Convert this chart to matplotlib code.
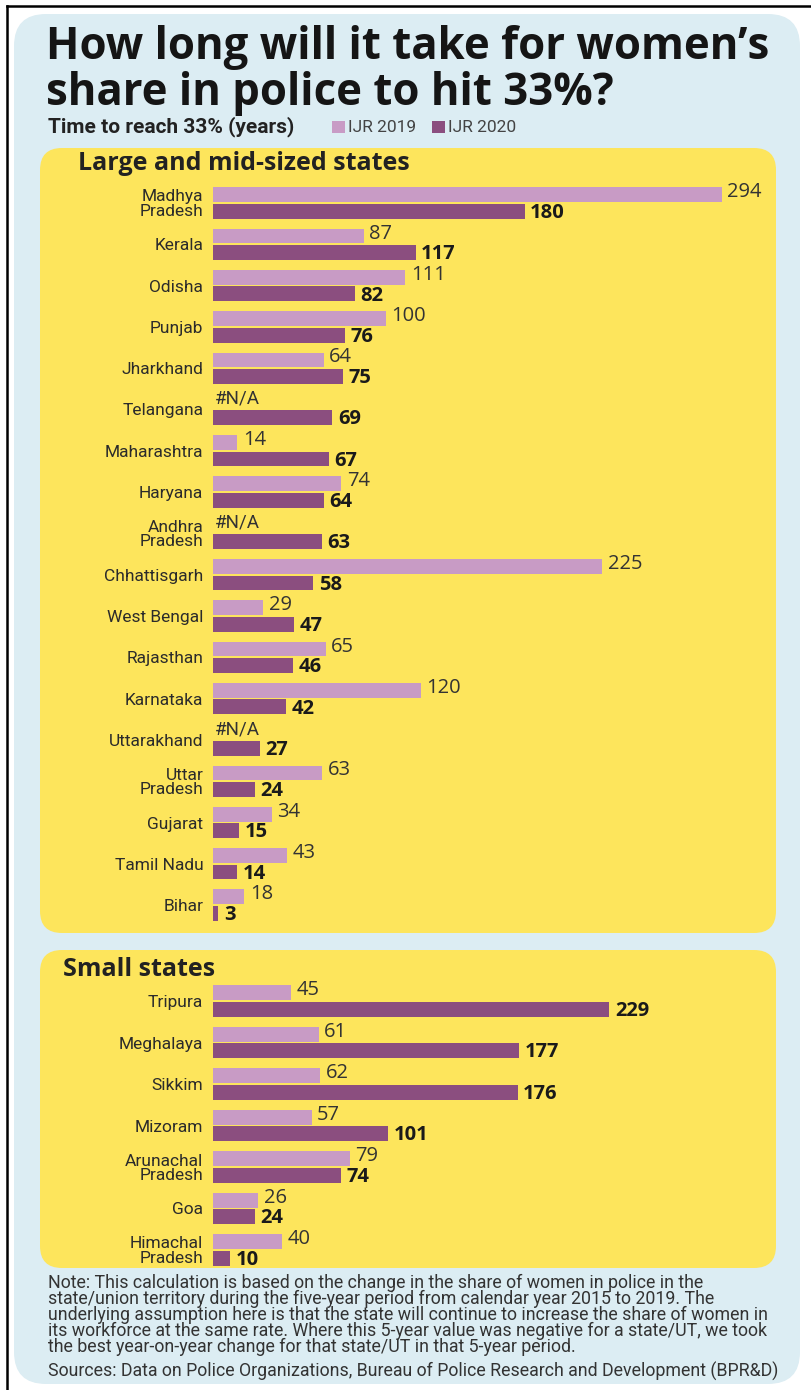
import numpy as np
import matplotlib
matplotlib.use('Agg')
import matplotlib.pyplot as plt
from matplotlib import font_manager
from matplotlib.patches import FancyBboxPatch, Rectangle

# ── data ──
large_states = ['Madhya\nPradesh', 'Kerala', 'Odisha', 'Punjab', 'Jharkhand', 'Telangana',
                'Maharashtra', 'Haryana', 'Andhra\nPradesh', 'Chhattisgarh', 'West Bengal',
                'Rajasthan', 'Karnataka', 'Uttarakhand', 'Uttar\nPradesh', 'Gujarat',
                'Tamil Nadu', 'Bihar']
large_2019 = [294, 87, 111, 100, 64, np.nan, 14, 74, np.nan, 225, 29, 65, 120, np.nan, 63, 34, 43, 18]
large_2020 = [180, 117, 82, 76, 75, 69, 67, 64, 63, 58, 47, 46, 42, 27, 24, 15, 14, 3]

small_states = ['Tripura', 'Meghalaya', 'Sikkim', 'Mizoram', 'Arunachal\nPradesh', 'Goa',
                'Himachal\nPradesh']
small_2019 = [45, 61, 62, 57, 79, 26, 40]
small_2020 = [229, 177, 176, 101, 74, 24, 10]

TITLE = ["How long will it take for women\u2019s", "share in police to hit 33%?"]
SUBTITLE = "Time to reach 33% (years)"
LEGEND = ['IJR 2019', 'IJR 2020']
NOTE = ("Note: This calculation is based on the change in the share of women in police in the\n"
        "state/union territory during the five-year period from calendar year 2015 to 2019. The\n"
        "underlying assumption here is that the state will continue to increase the share of women in\n"
        "its workforce at the same rate. Where this 5-year value was negative for a state/UT, we took\n"
        "the best year-on-year change for that state/UT in that 5-year period.")
SOURCE = "Sources: Data on Police Organizations, Bureau of Police Research and Development (BPR&D)"

LIGHT, DARK = '#c89bc5', '#8b4e7f'
YELLOW, BLUE = '#fde55c', '#dcedf3'
INK = '#222222'

names = {f.name for f in font_manager.fontManager.ttflist}
NARROW = 'Liberation Sans Narrow' if 'Liberation Sans Narrow' in names else 'Roboto'
HEAD = 'Open Sans'

W, H = 811, 1390
fig = plt.figure(figsize=(W / 100, H / 100), dpi=100)
fig.patch.set_facecolor('white')

# pixel-coordinate backdrop
bg = fig.add_axes([0, 0, 1, 1])
bg.set_xlim(0, W); bg.set_ylim(H, 0); bg.axis('off')
bg.add_patch(FancyBboxPatch((14, 14), 786, 1370, boxstyle="round,pad=0,rounding_size=32",
                            fc=BLUE, ec='none'))
bg.plot([7, W], [6, 6], color='black', lw=1.8)
bg.plot([7, 7], [6, H], color='black', lw=1.8)
for (x0, y0, w, h) in [(40, 148, 736, 785), (40, 950, 736, 318)]:
    bg.add_patch(FancyBboxPatch((x0, y0), w, h, boxstyle="round,pad=0,rounding_size=22",
                                fc=YELLOW, ec='none'))

for k, line in enumerate(TITLE):
    bg.text(46, 48 + k * 45, line, fontsize=31.5, weight='bold', family=HEAD, color='#151515',
            va='center', ha='left')
bg.text(48, 127, SUBTITLE, fontsize=15, weight='bold', family=NARROW, color=INK, va='center')
for k, (lbl, c) in enumerate(zip(LEGEND, [LIGHT, DARK])):
    x = 332 + k * 100
    bg.add_patch(Rectangle((x, 121), 13, 12, fc=c, ec='none'))
    bg.text(x + 16, 127, lbl, fontsize=12.5, family=NARROW, color='#444444', va='center')
bg.text(78, 164, 'Large and mid-sized states', fontsize=18, weight='bold', family=HEAD,
        color=INK, va='center')
bg.text(63, 970, 'Small states', fontsize=18, weight='bold', family=HEAD, color=INK, va='center')
bg.text(48, 1315, NOTE, fontsize=12.8, family=NARROW, color='#333333', va='center',
        linespacing=0.85)
bg.text(48, 1371, SOURCE, fontsize=12.8, family=NARROW, color='#333333', va='center')

PX = 1.731          # pixels per year
X0 = 213            # baseline pixel


def panel(states, v19, v20, y_first, step):
    n = len(states)
    top = y_first - step / 2
    bot = y_first + step * (n - 0.5)
    xmax = (776 - X0) / PX
    ax = fig.add_axes([X0 / W, 1 - bot / H, (776 - X0) / W, (bot - top) / H])
    ax.set_xlim(0, xmax); ax.set_ylim(n - 0.5, -0.5)
    ax.patch.set_alpha(0)
    for s in ax.spines.values():
        s.set_visible(False)
    ax.set_xticks([])
    y = np.arange(n)
    a = np.array(v19, dtype=float)
    b = np.array(v20, dtype=float)
    ok = ~np.isnan(a)
    ax.barh(y[ok] - 0.2, a[ok], height=0.36, color=LIGHT)
    ax.barh(y + 0.2, b, height=0.36, color=DARK)
    for i in range(n):
        if ok[i]:
            ax.annotate(f'{int(a[i])}', (a[i], i - 0.26), xytext=(4, 0), textcoords='offset points',
                        va='center', ha='left', fontsize=14.5, family=HEAD, color='#333333')
        else:
            ax.annotate('#N/A', (0, i - 0.26), xytext=(1, 0), textcoords='offset points',
                        va='center', ha='left', fontsize=13.5, family=NARROW, color='#333333')
        ax.annotate(f'{int(b[i])}', (b[i], i + 0.24), xytext=(4, 0), textcoords='offset points',
                    va='center', ha='left', fontsize=14.5, weight='bold', family=HEAD, color='#1a1a1a')
    ax.set_yticks(y)
    ax.set_yticklabels(states, fontsize=12.5, family=NARROW, color='#2b2b2b', linespacing=0.95)
    ax.tick_params(axis='y', length=0, pad=7)
    return ax


panel(large_states, large_2019, large_2020, 203, 41.3)
panel(small_states, small_2019, small_2020, 1001, 41.5)

fig.savefig('out.png', dpi=100)
